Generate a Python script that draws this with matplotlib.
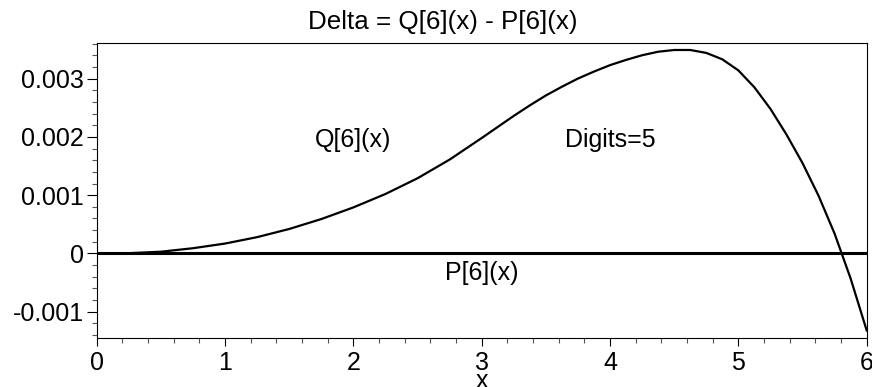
import matplotlib
matplotlib.use("Agg")
import matplotlib.pyplot as plt
from matplotlib.ticker import MultipleLocator

plt.rcParams["font.family"] = ["Liberation Sans", "DejaVu Sans"]

# Delta = Q[6](x) - P[6](x), sampled along x (finer where it bends hard)
x_vals = [0.0, 0.25, 0.5, 0.75, 1.0, 1.25, 1.5, 1.75, 2.0, 2.25, 2.5, 2.75,
          3.0, 3.125, 3.25, 3.375, 3.5, 3.625, 3.75, 3.875, 4.0, 4.125,
          4.25, 4.375, 4.5, 4.625, 4.75, 4.875, 5.0, 5.125, 5.25, 5.375,
          5.5, 5.625, 5.75, 5.875, 6.0]
delta = [0.0, 0.000005, 0.00003, 0.00009, 0.00017, 0.00028, 0.00042,
         0.00059, 0.00079, 0.00102, 0.00129, 0.00161,
         0.00198, 0.00217, 0.00236, 0.00254, 0.00271, 0.00286, 0.00300,
         0.00312, 0.00323, 0.00332, 0.00340, 0.00346, 0.00349, 0.00349,
         0.00344, 0.00333, 0.00314, 0.00285, 0.00248, 0.00204, 0.00155,
         0.00099, 0.00034, -0.00043, -0.00132]

# P[6](x) is the reference, so it sits at zero
p_x = [0.0, 6.0]
p_y = [0.0, 0.0]

y_ticks = [-0.001, 0.0, 0.001, 0.002, 0.003]
y_tick_labels = ["-0.001", "0", "0.001", "0.002", "0.003"]
x_ticks = [0, 1, 2, 3, 4, 5, 6]

fig = plt.figure(figsize=(8.72, 3.87), dpi=100)
ax = fig.add_axes([0.1109, 0.1266, 0.883, 0.7623])

ax.plot(x_vals, delta, color="black", lw=1.6, solid_joinstyle="round")
ax.plot(p_x, p_y, color="black", lw=2.2)

ax.set_xlim(0, 6)
ax.set_ylim(-0.00145, 0.00361)
ax.set_xticks(x_ticks)
ax.set_xticklabels([str(t) for t in x_ticks])
ax.set_yticks(y_ticks)
ax.set_yticklabels(y_tick_labels)
ax.xaxis.set_minor_locator(MultipleLocator(0.2))
ax.yaxis.set_minor_locator(MultipleLocator(0.0002))

ax.tick_params(which="major", direction="out", length=6, width=0.8,
               labelsize=18, pad=3, colors="black")
ax.tick_params(which="minor", direction="out", length=3.6, width=0.8,
               color="#555555")
ax.tick_params(axis="y", which="major", length=7, pad=2)

for sp in ax.spines.values():
    sp.set_linewidth(0.8)
    sp.set_color("black")

ax.text(2.0, 0.00195, "Q[6](x)", fontsize=18, ha="center", va="center")
ax.text(4.0, 0.00195, "Digits=5", fontsize=18, ha="center", va="center")
ax.text(3.0, -0.00034, "P[6](x)", fontsize=18, ha="center", va="center")

# title sits a little left of the axes centre
ax.set_title("Delta = Q[6](x) - P[6](x)", fontsize=18.7, pad=10, x=0.4497)
ax.set_xlabel("x", fontsize=18, labelpad=-4)

fig.savefig("out.png", dpi=100)
